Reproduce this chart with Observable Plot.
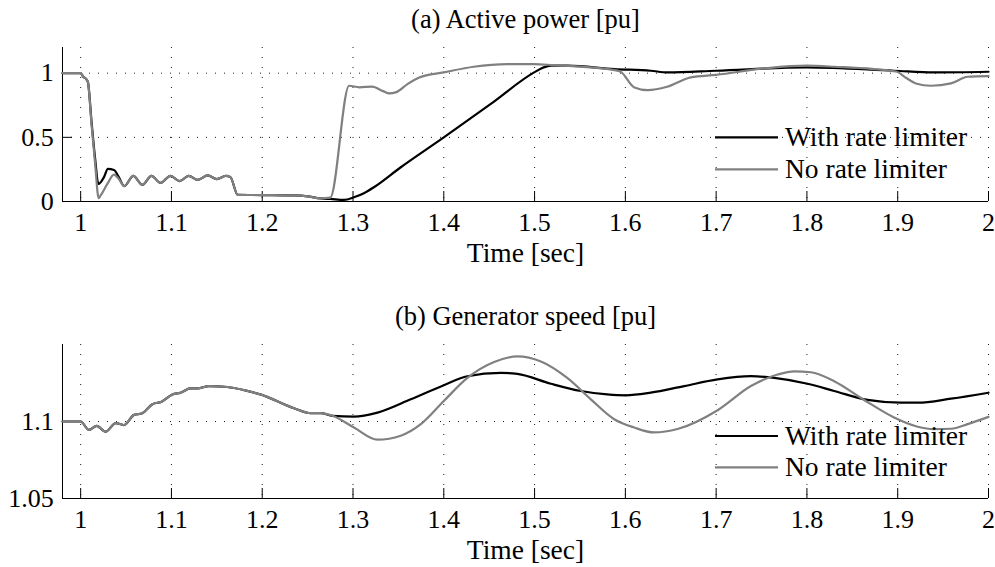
<!DOCTYPE html>
<html>
<head>
<meta charset="utf-8">
<script src="https://cdn.jsdelivr.net/npm/d3@7"></script>
<script src="https://cdn.jsdelivr.net/npm/@observablehq/plot@0.6"></script>
<style>
html, body { margin: 0; padding: 0; background: #fff; }
#root { position: relative; width: 995px; height: 567px; font-family: "Liberation Serif", "Times New Roman", serif; }
#root svg { display: block; }
#legend { position: absolute; left: 0; top: 0; pointer-events: none; }
</style>
</head>
<body>
<div id="root"></div>
<script>
// ---------- data ----------
const xTicks = [1, 1.1, 1.2, 1.3, 1.4, 1.5, 1.6, 1.7, 1.8, 1.9, 2];
const xDomain = [0.98, 2];
const seriesNames = ["With rate limiter", "No rate limiter"];
const seriesColors = ["#000000", "#808080"];
const titles = ["(a) Active power [pu]", "(b) Generator speed [pu]"];
const xLabel = "Time [sec]";

const powerTicks = [0, 0.5, 1];
const powerGrid = [0.5, 1];
const powerDomain = [0, 1.2];

const powerWithT = [0.98, 1.0, 1.003, 1.006, 1.008, 1.012, 1.016, 1.0195, 1.0257, 1.030, 1.0367, 1.042, 1.048,
  1.058, 1.068, 1.078, 1.088, 1.099, 1.109, 1.119, 1.129, 1.140, 1.150, 1.160, 1.165, 1.173, 1.20, 1.235, 1.25, 1.264,
  1.275, 1.29, 1.301, 1.312, 1.323, 1.3526, 1.40, 1.4518, 1.4995, 1.51, 1.518, 1.536, 1.588, 1.628, 1.6465, 1.70,
  1.80, 1.896, 1.94, 2.0];
const powerWithV = [1, 1, 0.97, 0.955, 0.93, 0.62, 0.33, 0.137, 0.19, 0.254, 0.246, 0.19, 0.12,
  0.20, 0.13, 0.20, 0.145, 0.20, 0.158, 0.20, 0.168, 0.203, 0.175, 0.20, 0.19, 0.052, 0.05, 0.047, 0.04, 0.024,
  0.02, 0.013, 0.033, 0.065, 0.111, 0.267, 0.5, 0.76, 1.006, 1.045, 1.058, 1.058, 1.032, 1.019, 1.006, 1.019,
  1.045, 1.019, 1.006, 1.011];

const powerNoT = [0.98, 1.0, 1.003, 1.006, 1.008, 1.012, 1.016, 1.0198, 1.022, 1.0294, 1.0367, 1.042, 1.048,
  1.058, 1.068, 1.078, 1.088, 1.099, 1.109, 1.119, 1.129, 1.140, 1.150, 1.160, 1.165, 1.173, 1.20, 1.235, 1.25, 1.264,
  1.275, 1.2957, 1.307, 1.321, 1.333, 1.340, 1.347, 1.36, 1.373, 1.40, 1.433, 1.47, 1.4995, 1.52, 1.588, 1.595,
  1.61, 1.6245, 1.646, 1.672, 1.70, 1.757, 1.80, 1.83, 1.898, 1.91, 1.92, 1.9366, 1.9587, 1.977, 2.0];
const powerNoV = [1, 1, 0.97, 0.955, 0.93, 0.6, 0.29, 0.026, 0.047, 0.137, 0.21, 0.176, 0.12,
  0.20, 0.13, 0.20, 0.145, 0.20, 0.158, 0.20, 0.168, 0.203, 0.175, 0.20, 0.19, 0.052, 0.05, 0.047, 0.04, 0.024,
  0.03, 0.902, 0.89, 0.895, 0.86, 0.842, 0.85, 0.915, 0.967, 1.006, 1.05, 1.07, 1.07, 1.063, 1.024, 1.01,
  0.889, 0.868, 0.894, 0.967, 0.987, 1.04, 1.058, 1.05, 1.013, 0.96, 0.92, 0.902, 0.92, 0.972, 0.977];

const speedTicks = [1.05, 1.1];
const speedGrid = [1.1];
const speedDomain = [1.05, 1.15];

const speedWithT = [0.98, 1.0, 1.0092, 1.0176, 1.0275, 1.0386, 1.0477, 1.0588, 1.068, 1.079, 1.0892, 1.101, 1.110,
  1.121, 1.1286, 1.1414, 1.1616, 1.18, 1.198, 1.235, 1.2534, 1.2645, 1.2774,
  1.301, 1.327, 1.3636, 1.40, 1.426, 1.4628, 1.481, 1.518, 1.551, 1.580, 1.6005, 1.628, 1.6648, 1.7016, 1.7383,
  1.764, 1.8007, 1.830, 1.8667, 1.9036, 1.922, 1.9587, 2.0];
const speedWithV = [1.1, 1.1, 1.0945, 1.0972, 1.0934, 1.099, 1.0977, 1.1043, 1.1054, 1.1112, 1.1129, 1.1176, 1.1187,
  1.1215, 1.1215, 1.123, 1.1224, 1.1204, 1.1176, 1.1086, 1.1054, 1.1054, 1.1037,
  1.1032, 1.1058, 1.1144, 1.1236, 1.1294, 1.1316, 1.1309, 1.1245, 1.1198, 1.1176, 1.117, 1.1187, 1.123, 1.1273, 1.1294,
  1.1283, 1.1245, 1.1198, 1.114, 1.1122, 1.1122, 1.1148, 1.1187];

const speedNoT = [0.98, 1.0, 1.0092, 1.0176, 1.0275, 1.0386, 1.0477, 1.0588, 1.068, 1.079, 1.0892, 1.101, 1.110,
  1.121, 1.1286, 1.1414, 1.1616, 1.18, 1.198, 1.235, 1.2534, 1.2645, 1.2774,
  1.301, 1.327, 1.3526, 1.3747, 1.40, 1.426, 1.4554, 1.481, 1.507, 1.536, 1.562, 1.5877, 1.6097, 1.6315, 1.6575,
  1.7016, 1.7383, 1.7677, 1.786, 1.8044, 1.830, 1.863, 1.896, 1.922, 1.940, 1.9587, 1.977, 2.0];
const speedNoV = [1.1, 1.1, 1.0945, 1.0972, 1.0934, 1.099, 1.0977, 1.1043, 1.1054, 1.1112, 1.1129, 1.1176, 1.1187,
  1.1215, 1.1215, 1.123, 1.1224, 1.1204, 1.1176, 1.1086, 1.1054, 1.1054, 1.1037,
  1.0961, 1.0882, 1.0908, 1.0983, 1.1133, 1.1283, 1.1386, 1.1423, 1.139, 1.1283, 1.1144, 1.1015, 1.0961, 1.0929, 1.0951,
  1.1073, 1.123, 1.1305, 1.1326, 1.132, 1.1262, 1.114, 1.1026, 1.0966, 1.0951, 1.0953, 1.0983, 1.103];

// ---------- drawing ----------
const W = 995, ML = 62, MR = 7, FH = 154;
const FONT = '"Liberation Serif", "Times New Roman", serif';
const fmt = d3.format("~g");

function rowsOf(t, v, s) { return t.map((x, i) => ({t: x, v: v[i], s})); }

function panel(cfg) {
  const series = [
    rowsOf(cfg.withT, cfg.withV, seriesNames[0]),
    rowsOf(cfg.noT, cfg.noV, seriesNames[1])
  ];
  return Plot.plot({
    width: W, height: cfg.height,
    marginLeft: ML, marginRight: MR, marginTop: cfg.mt, marginBottom: cfg.mb,
    style: {fontFamily: FONT, fontSize: "26px", color: "#000", background: "#fff", overflow: "visible"},
    x: {domain: xDomain},
    y: {domain: cfg.domain},
    marks: [
      Plot.gridX(xTicks, {stroke: "#000", strokeOpacity: 0.9, strokeDasharray: "1,9"}),
      Plot.gridY(cfg.grid, {stroke: "#000", strokeOpacity: 0.9, strokeDasharray: "1,8"}),
      Plot.tickX(xTicks, {x: d => d, insetTop: FH - 10, stroke: "#000"}),
      Plot.tickY(cfg.ticks, {y: d => d, insetRight: (W - ML - MR) - 10, stroke: "#000"}),
      Plot.ruleX([xDomain[0]], {stroke: "#000"}),
      Plot.ruleY([cfg.domain[0]], {stroke: "#000"}),
      Plot.axisX(xTicks, {tickSize: 0, tickPadding: 11.5, tickFormat: fmt, fontSize: 26, label: null}),
      Plot.axisY(cfg.ticks, {tickSize: 0, tickPadding: 8.7, tickFormat: fmt, fontSize: 26, label: null}),
      Plot.line(series[0], {x: "t", y: "v", stroke: seriesColors[0], strokeWidth: 2.2, curve: "monotone-x"}),
      Plot.line(series[1], {x: "t", y: "v", stroke: seriesColors[1], strokeWidth: 2.2, curve: "monotone-x"}),
      Plot.text([cfg.title], {frameAnchor: "top", lineAnchor: "bottom", dy: -20, fontSize: 26.5}),
      Plot.text([xLabel], {frameAnchor: "bottom", lineAnchor: "bottom", dy: 60, fontSize: 27.5})
    ]
  });
}

const root = document.getElementById("root");
root.appendChild(panel({
  title: titles[0], height: 283, mt: 47, mb: 82,
  domain: powerDomain, ticks: powerTicks, grid: powerGrid,
  withT: powerWithT, withV: powerWithV, noT: powerNoT, noV: powerNoV
}));
root.appendChild(panel({
  title: titles[1], height: 284, mt: 61, mb: 69,
  domain: speedDomain, ticks: speedTicks, grid: speedGrid,
  withT: speedWithT, withV: speedWithV, noT: speedNoT, noV: speedNoV
}));

// legends (transparent, no box), one per panel
const legendRows = [137.3, 169.3, 436, 467.3];
const leg = d3.select(root).append("svg").attr("id", "legend").attr("width", 995).attr("height", 567);
legendRows.forEach((y, i) => {
  const k = i % 2;
  leg.append("line").attr("x1", 715).attr("x2", 778).attr("y1", y).attr("y2", y)
    .attr("stroke", seriesColors[k]).attr("stroke-width", 2.2);
  leg.append("text").attr("x", 785).attr("y", y + 8.6)
    .style("font-family", FONT).attr("font-size", 27.5).attr("fill", "#000")
    .text(seriesNames[k]);
});
</script>
</body>
</html>
